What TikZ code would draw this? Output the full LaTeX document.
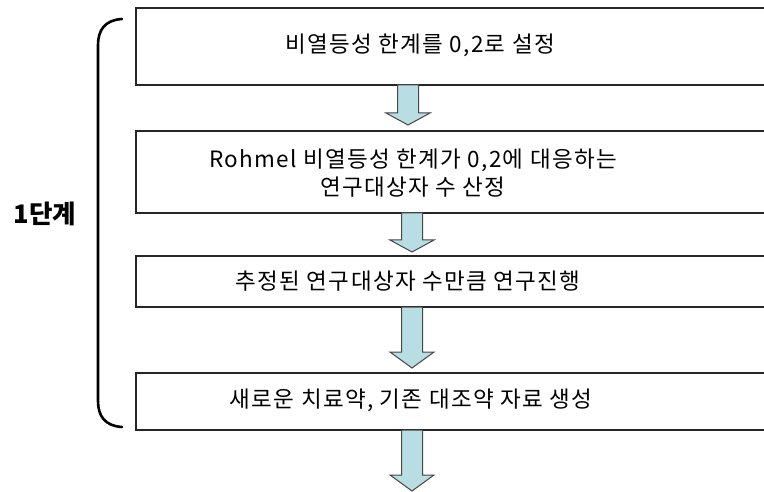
\documentclass[tikz,border=0pt]{standalone}
\usepackage{fontspec}
\setmainfont{Noto Sans CJK KR}
\usetikzlibrary{calc}
\definecolor{arrfill}{RGB}{184,221,227}
\definecolor{arrline}{RGB}{70,70,70}
\tikzset{
  stepbox/.style={draw=black!85, line width=1.6pt, rectangle, inner sep=0pt, anchor=north west, minimum width=660pt},
  steptext/.style={inner sep=0pt, align=center, font=\fontsize{22.5}{28}\selectfont\addfontfeature{LetterSpace=6}},
  blockarrow/.style={fill=arrfill, draw=arrline, line width=1pt, line join=miter},
  bracket/.style={draw=black, line width=2.6pt, line cap=round}
}
\newcommand\blockarr[4]{% x, top y, head start y, tip y
  \draw[blockarrow] (#1-10.5,#2) -- (#1-10.5,#3) -- (#1-22,#3) -- (#1,#4) -- (#1+22,#3) -- (#1+10.5,#3) -- (#1+10.5,#2) -- cycle;}
\begin{document}
\begin{tikzpicture}[x=1pt,y=-1pt]
\useasboundingbox (0,0) rectangle (764,492);
\clip (0,0) rectangle (764,492);
\fill[white] (0,0) rectangle (764,492);

\node[stepbox, minimum height=77pt] (b1) at (135,7) {};
\node[stepbox, minimum height=82pt] (b2) at (135,130) {};
\node[stepbox, minimum height=51pt] (b3) at (135,255) {};
\node[stepbox, minimum height=57pt] (b4) at (135,372) {};

\node[steptext] (t1) at (420,45.5) {비열등성 한계를 0,2로 설정};
\node[steptext] (t2) at (413,173) {Rohmel 비열등성 한계가 0,2에 대응하는\\연구대상자 수 산정};
\node[steptext] (t3) at (408,281) {추정된 연구대상자 수만큼 연구진행};
\node[steptext] (t4) at (411,400) {새로운 치료약, 기존 대조약 자료 생성};

\blockarr{408}{85}{113}{125}
\blockarr{412}{213}{240}{252}
\blockarr{412}{307}{352}{368}
\blockarr{412}{430}{475}{491}

\draw[bracket] (122,19) .. controls (105,20) and (98,30) .. (98,45) -- (98,401) .. controls (98,416) and (105,426) .. (122,427);

\node[inner sep=0pt, font=\fontsize{25.5}{30}\selectfont\bfseries] (lab) at (45,214) {1단계};
\end{tikzpicture}
\end{document}
